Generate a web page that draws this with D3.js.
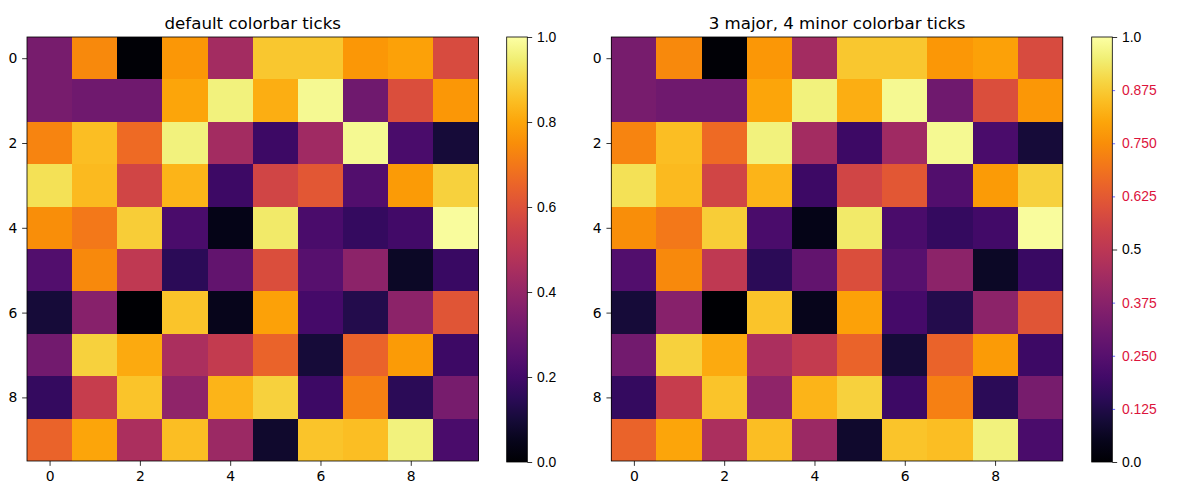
<!DOCTYPE html>
<html><head><meta charset="utf-8">
<script src="https://cdn.jsdelivr.net/npm/d3@7"></script>
<style>body{margin:0;background:#fff}svg{display:block;font-family:"DejaVu Sans",sans-serif}</style>
</head><body><svg id="c" width="1179" height="489"></svg>
<script>
const rows = [0,1,2,3,4,5,6,7,8,9];
const cols = [0,1,2,3,4,5,6,7,8,9];
const row0 = [0.33,0.74,0.01,0.77,0.44,0.87,0.87,0.77,0.79,0.58];
const row1 = [0.33,0.31,0.31,0.80,0.96,0.82,0.98,0.31,0.59,0.77];
const row2 = [0.73,0.85,0.67,0.96,0.44,0.19,0.43,0.98,0.22,0.10];
const row3 = [0.92,0.84,0.56,0.83,0.19,0.56,0.62,0.24,0.78,0.89];
const row4 = [0.75,0.70,0.88,0.22,0.04,0.94,0.22,0.17,0.20,0.99];
const row5 = [0.24,0.74,0.51,0.15,0.28,0.59,0.25,0.38,0.07,0.18];
const row6 = [0.10,0.37,0.00,0.86,0.05,0.79,0.21,0.13,0.38,0.61];
const row7 = [0.32,0.89,0.81,0.46,0.52,0.65,0.10,0.65,0.78,0.19];
const row8 = [0.17,0.53,0.86,0.39,0.83,0.89,0.19,0.72,0.15,0.33];
const row9 = [0.65,0.80,0.46,0.85,0.42,0.08,0.86,0.85,0.96,0.22];
const grid = [row0,row1,row2,row3,row4,row5,row6,row7,row8,row9];
const axisTicks = [0,2,4,6,8];
const titles = ["default colorbar ticks","3 major, 4 minor colorbar ticks"];
const cbDefaultTicks = [0,0.2,0.4,0.6,0.8,1.0];
const cbMajorTicks = [0,0.5,1.0];
const cbMinorTicks = [0.125,0.25,0.375,0.625,0.75,0.875];

const svg = d3.select("#c");
const FS = 13.9, TL = 4.86, TP = 4.86;
const color = d3.scaleSequential(d3.interpolateInferno).domain([0,1]);

const defs = svg.append("defs");
const grad = defs.append("linearGradient").attr("id","cbg").attr("x1",0).attr("y1",1).attr("x2",0).attr("y2",0);
d3.range(0,1.0001,0.05).forEach(t=>grad.append("stop").attr("offset",t).attr("stop-color",color(t)));

const panels = [
  {x0:27, x1:478.5, cbx:506.7, title:titles[0], mode:0},
  {x0:611.3, x1:1062.8, cbx:1091.7, title:titles[1], mode:1}
];
const yTop = 37, yBot = 461, cbTop = 37, cbBot = 462, cbW = 20.6;

panels.forEach(p=>{
  const g = svg.append("g");
  const x = d3.scaleLinear().domain([-0.5,9.5]).range([p.x0,p.x1]);
  const y = d3.scaleLinear().domain([-0.5,9.5]).range([yTop,yBot]);
  grid.forEach((r,i)=>r.forEach((v,j)=>{
    g.append("rect").attr("x",x(cols[j]-0.5)).attr("y",y(rows[i]-0.5))
      .attr("width",x(cols[j]+0.5)-x(cols[j]-0.5)+0.4).attr("height",y(rows[i]+0.5)-y(rows[i]-0.5)+0.4)
      .attr("fill",color(v)).attr("shape-rendering","crispEdges");
  }));
  g.append("rect").attr("x",p.x0).attr("y",yTop).attr("width",p.x1-p.x0).attr("height",yBot-yTop)
    .attr("fill","none").attr("stroke","#000").attr("stroke-width",0.8);
  const xa = g.append("g").attr("transform",`translate(0,${yBot})`)
    .call(d3.axisBottom(x).tickValues(axisTicks).tickSize(TL).tickPadding(TP).tickFormat(d3.format("d")));
  const ya = g.append("g").attr("transform",`translate(${p.x0},0)`)
    .call(d3.axisLeft(y).tickValues(axisTicks).tickSize(TL).tickPadding(TP).tickFormat(d3.format("d")));
  [xa,ya].forEach(a=>{a.select(".domain").remove();a.selectAll("line").attr("stroke","#000").attr("stroke-width",0.8);
    a.selectAll("text").attr("font-size",FS).attr("fill","#000").attr("font-family","DejaVu Sans");});
  g.append("text").attr("x",(p.x0+p.x1)/2).attr("y",yTop-8.5).attr("text-anchor","middle")
    .attr("font-size",16.67).attr("fill","#000").text(p.title);

  // colorbar
  const cy = d3.scaleLinear().domain([0,1]).range([cbBot,cbTop]);
  g.append("rect").attr("x",p.cbx).attr("y",cbTop).attr("width",cbW).attr("height",cbBot-cbTop).attr("fill","url(#cbg)");
  g.append("rect").attr("x",p.cbx).attr("y",cbTop).attr("width",cbW).attr("height",cbBot-cbTop)
    .attr("fill","none").attr("stroke","#000").attr("stroke-width",0.8);
  const cx = p.cbx + cbW;
  if(p.mode===0){
    const ca = g.append("g").attr("transform",`translate(${cx},0)`)
      .call(d3.axisRight(cy).tickValues(cbDefaultTicks).tickSize(TL).tickPadding(TP).tickFormat(d3.format(".1f")));
    ca.select(".domain").remove();
    ca.selectAll("line").attr("stroke","#000").attr("stroke-width",0.8);
    ca.selectAll("text").attr("font-size",FS).attr("fill","#000");
  } else {
    const ca = g.append("g").attr("transform",`translate(${cx},0)`)
      .call(d3.axisRight(cy).tickValues(cbMajorTicks).tickSize(TL).tickPadding(TP)
        .tickFormat(d=>d===0.5?"0.5":d3.format(".1f")(d)));
    ca.select(".domain").remove();
    ca.selectAll("line").attr("stroke","#000").attr("stroke-width",0.8);
    ca.selectAll("text").attr("font-size",FS).attr("fill","#000");
    const cm = g.append("g").attr("transform",`translate(${cx},0)`)
      .call(d3.axisRight(cy).tickValues(cbMinorTicks).tickSize(2.8).tickPadding(TL+TP-2.8).tickFormat(d3.format(".3f")));
    cm.select(".domain").remove();
    cm.selectAll("line").attr("stroke","#0000ff").attr("stroke-width",0.6);
    cm.selectAll("text").attr("font-size",FS).attr("fill","#dc143c");
  }
});
</script></body></html>
